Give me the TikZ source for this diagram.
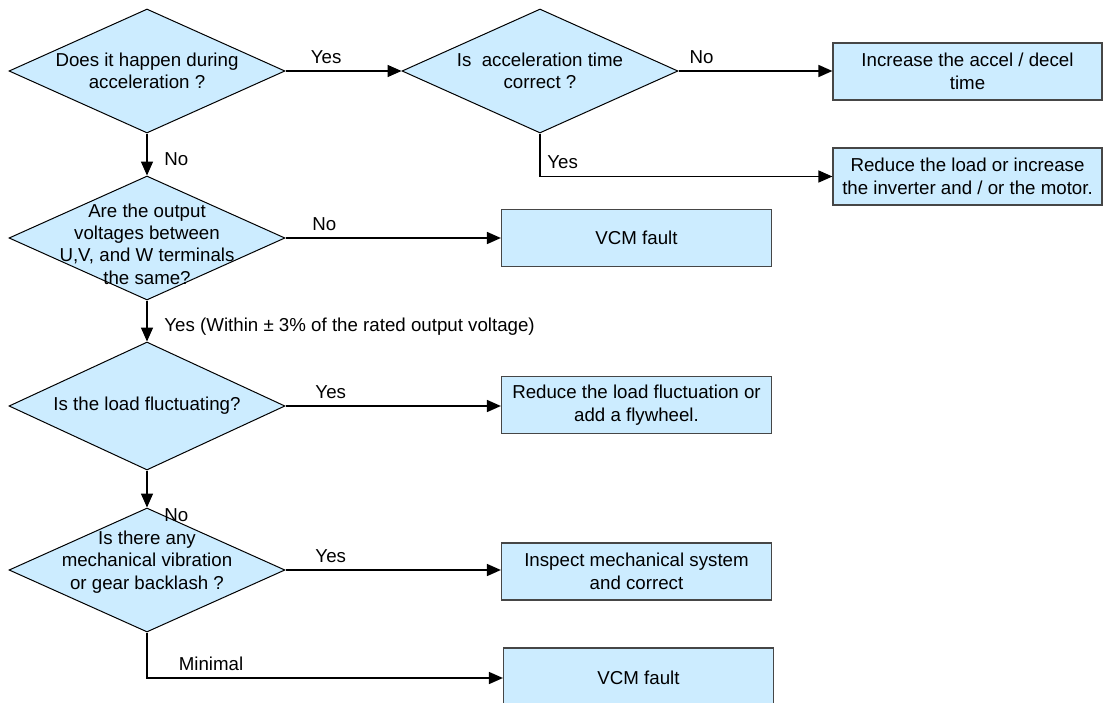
\documentclass[tikz,border=0pt]{standalone}
\usepackage{fontspec}
\setmainfont{Liberation Sans}
\usetikzlibrary{shapes.geometric, arrows.meta, positioning}
\definecolor{boxfill}{RGB}{204,236,255}
\definecolor{boxline}{RGB}{70,70,70}

\begin{document}
\begin{tikzpicture}[
    x=0.5pt, y=-0.5pt,
    >={Triangle[length=7pt,width=6pt]},
    every node/.style={font=\fontsize{9.35}{11.2}\selectfont},
    decision/.style={diamond, draw, line width=0.5pt, fill=boxfill, inner sep=0pt,
        minimum width=138pt, minimum height=62pt},
    action/.style={rectangle, draw=boxline, line width=0.6pt, fill=boxfill, align=center,
        minimum width=135pt, minimum height=28.5pt, inner sep=0pt},
    flow/.style={->, line width=0.8pt}
]
\useasboundingbox (0,0) rectangle (1103,702);

% Questions on the left
\node[decision, label={[align=center]center:Does it happen during\\acceleration ?}] (q1) at (147,71) {};
\node[decision, label={[align=center]center:Is~ acceleration time\\correct ?}] (q2) at (540,71) {};
\node[decision, label={[align=center, yshift=-3pt]center:Are the output\\voltages between\\U,V, and W terminals\\the same?}] (q3) at (147,238) {};
\node[decision, minimum height=64pt, label={center:Is the load fluctuating?}] (q4) at (147,406) {};
\node[decision, label={[align=center, yshift=4pt]center:Is there any\\mechanical vibration\\or gear backlash ?}] (q5) at (147,570) {};

% Actions on the right
\node[action, minimum width=134.5pt] (a1) at (967.5,71.5) {Increase the accel / decel\\time};
\node[action, minimum width=134.5pt] (a2) at (967.5,176.5) {Reduce the load or increase\\the inverter and / or the motor.};
\node[action] (f1) at (636.5,238) {VCM fault};
\node[action] (a3) at (636.5,405) {Reduce the load fluctuation or\\add a flywheel.};
\node[action] (a4) at (636.5,571.5) {Inspect mechanical system\\and correct};
\node[action, minimum height=30pt] (f2) at (638.5,678) {VCM fault};

% Connectors
\draw[flow] (q1.east) -- (q2.west) node[above, pos=0.35] {Yes};
\draw[flow] (q2.east) -- (q2.east -| a1.west) node[above, pos=0.15] {No};
\draw[flow] (q2.south) |- (a2.west) node[above right, pos=0.5] {Yes};
\draw[flow] (q1.south) -- (q3.north) node[right, pos=0.6, xshift=5pt] {No};
\draw[flow] (q3.east) -- (q3.east -| f1.west) node[above, pos=0.18] {No};
\draw[flow] (q3.south) -- (q4.north) node[right, pos=0.64, xshift=5pt] {Yes (Within ± 3\% of the rated output voltage)};
\draw[flow] (q4.east) -- (q4.east -| a3.west) node[above, pos=0.21] {Yes};
\draw[flow] (q4.south) -- (q5.north) node[right, pos=1, xshift=5pt, yshift=-4pt] {No};
\draw[flow] (q5.east) -- (q5.east -| a4.west) node[above, pos=0.21] {Yes};
\draw[flow] (q5.south) |- (f2.west) node[above, pos=0.59] {Minimal};

\end{tikzpicture}
\end{document}
